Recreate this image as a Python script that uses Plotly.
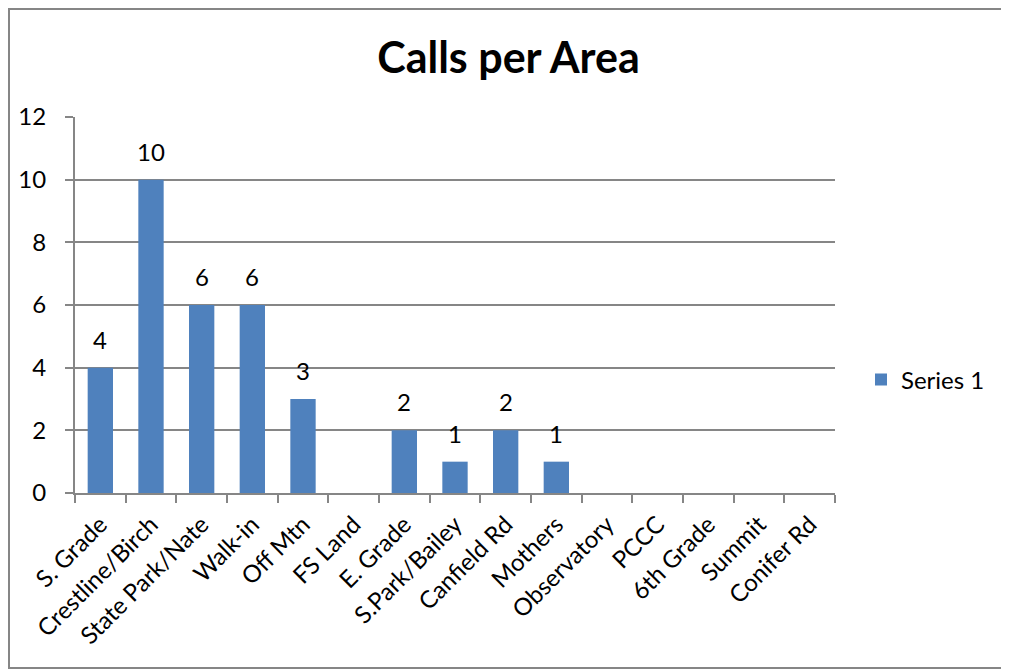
import plotly.graph_objects as go

categories = ["S. Grade", "Crestline/Birch", "State Park/Nate", "Walk-in", "Off Mtn",
              "FS Land", "E. Grade", "S.Park/Bailey", "Canfield Rd", "Mothers",
              "Observatory", "PCCC", "6th Grade", "Summit", "Conifer Rd"]
values = [4, 10, 6, 6, 3, 0, 2, 1, 2, 1, 0, 0, 0, 0, 0]
series_name = "Series 1"
title_text = "Calls per Area"

# page body margin of 8px offsets the figure
OFF = 8
W, H = 1009 - OFF, 671 - OFF
L, R, T, B = 75 - OFF, 835 - OFF, 117 - OFF, 493 - OFF

fig = go.Figure()
fig.add_trace(go.Bar(
    x=categories, y=values, name=series_name,
    marker=dict(color="#4F81BD", line=dict(width=0)),
    showlegend=True,
))

for c, v in zip(categories, values):
    if v:
        fig.add_annotation(x=c, y=v, text=str(v), showarrow=False,
                           yanchor="bottom", yshift=12,
                           font=dict(size=24, color="black"))

gray = "#868686"
fig.update_layout(
    width=W, height=H,
    margin=dict(l=L, r=W - R, t=T, b=H - B, autoexpand=False),
    paper_bgcolor="white", plot_bgcolor="white",
    font=dict(family="Lato", size=24, color="black"),
    title=dict(text="<b>" + title_text + "</b>", x=0.5, xanchor="center",
               y=1 - (58 - OFF) / H, yanchor="middle", font=dict(size=43, color="black")),
    bargap=0.5,
    showlegend=True,
    legend=dict(x=(861 - OFF - L) / (R - L), xanchor="left", y=(B - (380 - OFF)) / (B - T), yanchor="middle",
                font=dict(size=24), bgcolor="rgba(0,0,0,0)", itemsizing="constant"),
    xaxis=dict(type="category", tickangle=-45, showgrid=False, showline=True,
               linecolor=gray, linewidth=2, ticks="outside", tickson="boundaries",
               ticklen=8, tickcolor=gray, tickwidth=2, tickfont=dict(size=24),
               ticklabelstandoff=6),
    yaxis=dict(range=[0, 12], dtick=2, showgrid=True, gridcolor=gray, gridwidth=2,
               showline=True, linecolor=gray, linewidth=2, ticks="outside",
               ticklen=8, tickcolor=gray, tickwidth=2, zeroline=False,
               tickfont=dict(size=24), ticklabelstandoff=14),
)

fig.add_shape(type="rect", xref="paper", yref="paper",
              x0=(1 - L) / (R - L), x1=(1005 - OFF - L) / (R - L),
              y0=(B - (668 - OFF)) / (B - T), y1=(B - 1) / (B - T),
              line=dict(color=gray, width=2), fillcolor="rgba(0,0,0,0)", layer="below")

fig.write_html("out.html")
